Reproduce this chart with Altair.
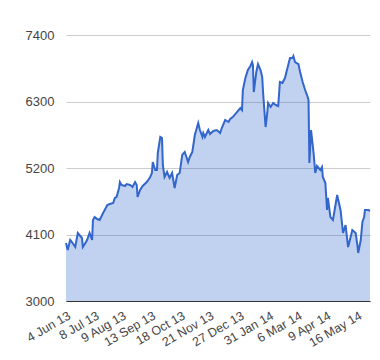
import altair as alt
import pandas as pd

dates = [
    "2013-06-04", "2013-06-06", "2013-06-09", "2013-06-11", "2013-06-15", "2013-06-18",
    "2013-06-21", "2013-06-23", "2013-06-24", "2013-06-27", "2013-06-29", "2013-07-02",
    "2013-07-05", "2013-07-06", "2013-07-08", "2013-07-11", "2013-07-14", "2013-07-18",
    "2013-07-20", "2013-07-23", "2013-07-26", "2013-07-30", "2013-08-01", "2013-08-03",
    "2013-08-06", "2013-08-07", "2013-08-09", "2013-08-13", "2013-08-15", "2013-08-19",
    "2013-08-22", "2013-08-25", "2013-08-27", "2013-08-28", "2013-08-31", "2013-09-03",
    "2013-09-08", "2013-09-12", "2013-09-14", "2013-09-15", "2013-09-18", "2013-09-20",
    "2013-09-21", "2013-09-24", "2013-09-26", "2013-09-27", "2013-09-29", "2013-10-02",
    "2013-10-05", "2013-10-08", "2013-10-09", "2013-10-11", "2013-10-14", "2013-10-17",
    "2013-10-20", "2013-10-23", "2013-10-27", "2013-10-29", "2013-11-01", "2013-11-04",
    "2013-11-08", "2013-11-10", "2013-11-13", "2013-11-14", "2013-11-16", "2013-11-20",
    "2013-11-22", "2013-11-26", "2013-11-30", "2013-12-04", "2013-12-06", "2013-12-10",
    "2013-12-14", "2013-12-16", "2013-12-19", "2013-12-24", "2013-12-28", "2013-12-30",
    "2013-12-31", "2014-01-03", "2014-01-06", "2014-01-09", "2014-01-11", "2014-01-12",
    "2014-01-13", "2014-01-16", "2014-01-18", "2014-01-21", "2014-01-23", "2014-01-24",
    "2014-01-27", "2014-01-29", "2014-01-30", "2014-02-02", "2014-02-05", "2014-02-08",
    "2014-02-11", "2014-02-13", "2014-02-16", "2014-02-19", "2014-02-22", "2014-02-25",
    "2014-02-28", "2014-03-01", "2014-03-03", "2014-03-07", "2014-03-09", "2014-03-12",
    "2014-03-15", "2014-03-18", "2014-03-19", "2014-03-20", "2014-03-22", "2014-03-25",
    "2014-03-27", "2014-03-29", "2014-04-02", "2014-04-04", "2014-04-05", "2014-04-08",
    "2014-04-10", "2014-04-11", "2014-04-14", "2014-04-17", "2014-04-20", "2014-04-22",
    "2014-04-26", "2014-04-29", "2014-05-02", "2014-05-05", "2014-05-08", "2014-05-10",
    "2014-05-14", "2014-05-16", "2014-05-17", "2014-05-20", "2014-05-22", "2014-05-24",
    "2014-05-25", "2014-05-29", "2014-05-31",
]

values = [
    3960, 3845, 4009, 3976, 3893, 4125,
    4075, 4042, 3893, 3960, 4009, 4125,
    4009, 4340, 4390, 4356, 4340, 4456,
    4505, 4588, 4604, 4621, 4704, 4720,
    4869, 4968, 4919, 4902, 4935, 4919,
    4886, 4968, 4919, 4720, 4836, 4902,
    4968, 5051, 5117, 5299, 5167, 5167,
    5448, 5713, 5696, 5250, 5051, 5134,
    5035, 5117, 5035, 4869, 5084, 5117,
    5415, 5465, 5299, 5382, 5465, 5746,
    5944, 5828, 5713, 5779, 5713, 5828,
    5762, 5812, 5828, 5779, 5861, 5994,
    5961, 6010, 6043, 6126, 6192, 6159,
    6490, 6688, 6821, 6887, 6953, 6903,
    6457, 6788, 6920, 6821, 6705, 6457,
    5878, 6110, 6275, 6209, 6275, 6242,
    6225, 6622, 6606, 6688, 6854, 7019,
    7019, 7052, 6953, 6920, 6788, 6622,
    6490, 6374, 6325, 5283, 5828, 5448,
    5117, 5233, 5167, 5216, 5051, 4952,
    4505, 4704, 4389, 4340, 4588, 4753,
    4505, 4125, 4257, 3893, 4059, 4174,
    4125, 3926, 3794, 4009, 4307, 4389,
    4505, 4505, 4489,
]

x_tick_dates = [
    "2013-06-04", "2013-07-08", "2013-08-09", "2013-09-13", "2013-10-18",
    "2013-11-21", "2013-12-27", "2014-01-31", "2014-03-06", "2014-04-09", "2014-05-16",
]
x_domain = ["2013-06-04", "2014-05-31"]
y_ticks = [3000, 4100, 5200, 6300, 7400]

df = pd.DataFrame({"date": dates, "value": values})


def dt(s):
    y, m, d = (int(p) for p in s.split("-"))
    return alt.DateTime(year=y, month=m, date=d, utc=True)


LINE = "#3366CC"
FONT = "Liberation Sans"

x_enc = alt.X(
    "date:T",
    scale=alt.Scale(type="utc", domain=[dt(s) for s in x_domain], nice=False),
    axis=alt.Axis(
        title=None,
        values=[dt(s) for s in x_tick_dates],
        labelExpr="utcFormat(datum.value, '%-d %b %y')",
        labelAngle=-30,
        labelAlign="right",
        labelBaseline="top",
        labelPadding=8,
        labelFont=FONT,
        labelFontSize=12.5,
        labelColor="#444444",
        labelOverlap=False,
        labelFlush=False,
        ticks=False,
        grid=False,
        domain=True,
        domainColor="#333333",
        domainWidth=1,
        zindex=1,
    ),
)

y_enc = alt.Y(
    "value:Q",
    scale=alt.Scale(domain=[3000, 7400], nice=False, zero=False),
    axis=alt.Axis(
        title=None,
        values=y_ticks,
        format="d",
        labelFont=FONT,
        labelFontSize=13,
        labelColor="#444444",
        labelPadding=12,
        ticks=False,
        domain=False,
        grid=True,
        gridColor="#cccccc",
        gridWidth=1,
    ),
)

area = alt.Chart(df).mark_area(color=LINE, opacity=0.3).encode(
    x=x_enc, y=y_enc, y2=alt.datum(3000)
)
line = alt.Chart(df).mark_line(color=LINE, strokeWidth=2).encode(x=x_enc, y=y_enc)

chart = (
    alt.layer(area, line)
    .properties(
        width=304,
        height=266,
        autosize=alt.AutoSizeParams(type="none"),
        padding={"left": 58, "top": 27, "right": 2, "bottom": 54},
        background="white",
    )
    .configure_view(stroke=None)
)

chart.save("out.html", embed_options={"renderer": "svg", "actions": False})
